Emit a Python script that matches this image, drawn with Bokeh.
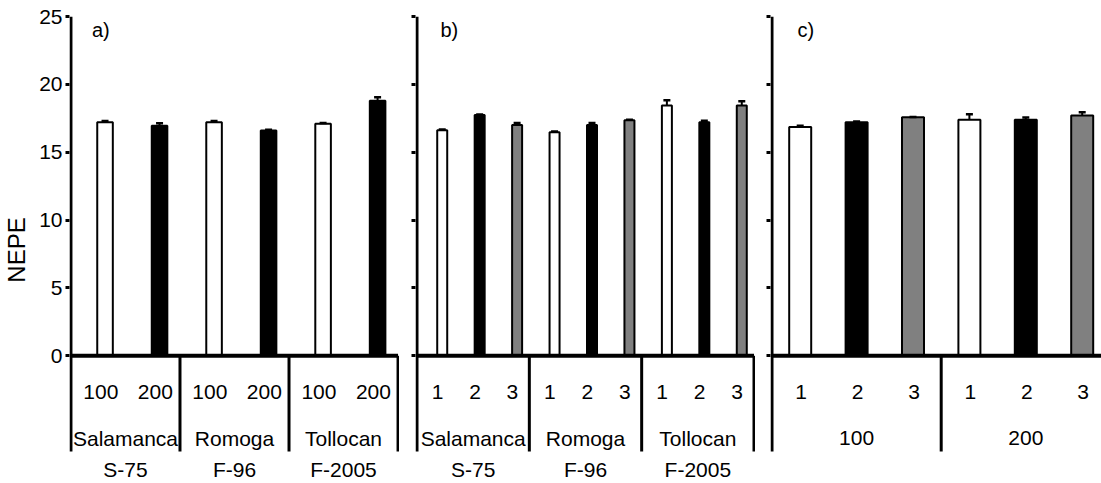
from bokeh.plotting import figure
from bokeh.layouts import row
from bokeh.models import Range1d, FixedTicker
from bokeh.core.properties import value
from bokeh.embed import file_html
from bokeh.resources import INLINE

# ---------------- data ----------------
cultivars = ["Salamanca", "Romoga", "Tollocan"]
cultivar_codes = ["S-75", "F-96", "F-2005"]

a_levels = ["100", "200"]
a_values = [17.2, 16.95, 17.2, 16.6, 17.1, 18.8]
a_errors = [0.1, 0.18, 0.1, 0.05, 0.05, 0.25]

b_levels = ["1", "2", "3"]
b_values = [16.62, 17.75, 17.0, 16.48, 17.0, 17.35, 18.45, 17.2, 18.45]
b_errors = [0.05, 0.03, 0.15, 0.05, 0.15, 0.05, 0.38, 0.12, 0.3]

c_groups = ["100", "200"]
c_levels = ["1", "2", "3"]
c_values = [16.85, 17.2, 17.57, 17.4, 17.4, 17.7]
c_errors = [0.1, 0.06, 0.03, 0.4, 0.15, 0.25]

y_ticks = [0, 5, 10, 15, 20, 25]
panel_tags = ["a)", "b)", "c)"]

level_colors = {"100": "white", "200": "black", "1": "white", "2": "black", "3": "#808080"}

# ---------------- layout constants ----------------
FONT = "Liberation Sans"
H = 483
TOP = 16
Y0_PX = 355.3
PXU = (Y0_PX - TOP) / 25.0


def to_y(px):
    return 25 - (px - TOP) / PXU


Y_BOTTOM = to_y(H)
ROW1 = to_y(391.5)
ROW2 = to_y(437.5)
ROW3 = to_y(468.5)
AXIS_BOTTOM = to_y(451)
TAG_Y = to_y(29)


def make_panel(fig_width, border_left, cat_px, n_cats, x_end=None):
    pad = 1.5 / cat_px
    end = x_end if x_end is not None else n_cats + pad
    p = figure(width=fig_width, height=H, x_range=Range1d(-pad, end),
               y_range=Range1d(Y_BOTTOM, 25), output_backend="svg",
               toolbar_location=None, x_axis_location=None,
               min_border_left=border_left, min_border_right=0,
               min_border_top=TOP, min_border_bottom=0)
    p.outline_line_color = None
    p.grid.visible = False
    ax = p.yaxis[0]
    ax.ticker = FixedTicker(ticks=y_ticks, minor_ticks=[])
    ax.axis_line_color = None
    ax.major_tick_line_width = 3
    ax.major_tick_line_color = "black"
    ax.major_tick_out = 4
    ax.major_tick_in = 0
    ax.minor_tick_line_color = None
    ax.major_label_text_font = FONT
    ax.major_label_text_font_size = "21px"
    ax.major_label_text_color = "black"
    ax.major_label_standoff = 3
    return p


def txt(p, xs, ys, labels, size, align="center"):
    p.text(x=xs, y=ys, text=labels, text_font=value(FONT), text_font_size=value(size),
           text_color="black", text_align=align, text_baseline="middle")


def draw(p, xs_cat, vals, errs, cols, bar_w, bar_off, lab_off, levels_txt,
         groups_x, group_l1, group_l2, seps, base_end, tag, tag_x):
    bx = [x + bar_off for x in xs_cat]
    # left axis line
    p.segment(x0=[0], y0=[AXIS_BOTTOM], x1=[0], y1=[25], line_width=3, line_color="black")
    # separators
    p.segment(x0=seps, y0=[0] * len(seps), x1=seps, y1=[AXIS_BOTTOM] * len(seps),
              line_width=3, line_color="black")
    # bars
    p.vbar(x=bx, top=vals, bottom=0, width=bar_w, fill_color=cols,
           line_color="black", line_width=2)
    # error bars
    tops = [v + e for v, e in zip(vals, errs)]
    p.segment(x0=bx, y0=vals, x1=bx, y1=tops, line_width=2, line_color="black")
    p.scatter(x=bx, y=tops, marker="dash", size=7, line_width=2.5, line_color="black")
    # baseline
    p.segment(x0=[0], y0=[0], x1=[base_end], y1=[0], line_width=4, line_color="black")
    # labels
    txt(p, [x + lab_off for x in xs_cat], [ROW1] * len(xs_cat), levels_txt, "21px")
    txt(p, groups_x, [ROW2] * len(groups_x), group_l1, "21px")
    if group_l2:
        txt(p, groups_x, [ROW3] * len(groups_x), group_l2, "21px")
    txt(p, [tag_x], [TAG_Y], [tag], "20px", align="left")


# ---------------- panel a ----------------
cat_a = 56.0
pa = make_panel(399, 60, cat_a, 6)
ax_a = pa.yaxis[0]
ax_a.axis_label = "NEPE"
ax_a.axis_label_text_font = FONT
ax_a.axis_label_text_font_style = "normal"
ax_a.axis_label_text_font_size = "24px"
ax_a.axis_label_text_color = "black"
ax_a.axis_label_standoff = 6
xs_a = [g * len(a_levels) + i + 0.5 for g in range(len(cultivars)) for i in range(len(a_levels))]
cols_a = [level_colors[l] for g in cultivars for l in a_levels]
lev_a = [l for g in cultivars for l in a_levels]
gx_a = [g * len(a_levels) + len(a_levels) / 2 for g in range(len(cultivars))]
seps_a = [len(a_levels) * (g + 1) for g in range(len(cultivars))]
draw(pa, xs_a, a_values, a_errors, cols_a, 16 / cat_a, 7 / cat_a, 2.7 / cat_a, lev_a,
     gx_a, cultivars, cultivar_codes, seps_a, len(xs_a), panel_tags[0], 21.5 / cat_a)

# ---------------- panel b ----------------
cat_b = 337.0 / 9
pb = make_panel(356, 16, cat_b, 9)
pb.yaxis[0].major_label_overrides = {t: "" for t in y_ticks}
xs_b = [g * len(b_levels) + i + 0.5 for g in range(len(cultivars)) for i in range(len(b_levels))]
cols_b = [level_colors[l] for g in cultivars for l in b_levels]
lev_b = [l for g in cultivars for l in b_levels]
gx_b = [g * len(b_levels) + len(b_levels) / 2 for g in range(len(cultivars))]
seps_b = [len(b_levels) * (g + 1) for g in range(len(cultivars))]
draw(pb, xs_b, b_values, b_errors, cols_b, 10 / cat_b, 6.5 / cat_b, 1.8 / cat_b, lev_b,
     gx_b, cultivars, cultivar_codes, seps_b, len(xs_b), panel_tags[1], 23.5 / cat_b)

# ---------------- panel c ----------------
cat_c = 56.4
c_end = (1101 - 771.5) / cat_c
pc = make_panel(346, 15, cat_c, 6, x_end=c_end)
pc.yaxis[0].major_label_overrides = {t: "" for t in y_ticks}
xs_c = [g * len(c_levels) + i + 0.5 for g in range(len(c_groups)) for i in range(len(c_levels))]
cols_c = [level_colors[l] for g in c_groups for l in c_levels]
lev_c = [l for g in c_groups for l in c_levels]
gx_c = [g * len(c_levels) + len(c_levels) / 2 for g in range(len(c_groups))]
seps_c = [len(c_levels) * (g + 1) for g in range(len(c_groups))]
draw(pc, xs_c, c_values, c_errors, cols_c, 22 / cat_c, 0.0, 1.0 / cat_c, lev_c,
     gx_c, c_groups, None, seps_c, c_end + 1, panel_tags[2], 25.5 / cat_c)

layout = row(pa, pb, pc, spacing=0)
open("out.html", "w").write(file_html(layout, INLINE))
